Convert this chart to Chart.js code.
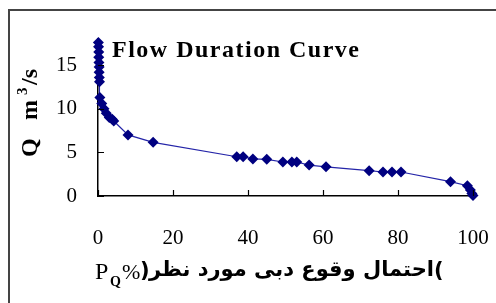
<!DOCTYPE html>
<html>
<head>
<meta charset="utf-8">
<script src="https://cdn.jsdelivr.net/npm/chart.js@4"></script>
<style>
  body { margin: 0; background: #fff; }
  canvas { display: block; }
</style>
</head>
<body>
<canvas id="fdc" width="496" height="303"></canvas>
<script>
// exceedance probability (%) and discharge (m3/s)
const pq = [0.1, 0.15, 0.2, 0.2, 0.25, 0.3, 0.3, 0.35, 0.4, 0.5, 1.0, 1.6, 2.2, 3.0, 3.8, 4.2,
  8, 14.7, 37, 38.7, 41.3, 45, 49.3, 51.7, 53, 56.3, 60.8, 72.3, 76, 78.4, 80.8, 94, 98.5, 99.3, 99.7, 100];
const q = [17.6, 17.1, 16.5, 15.9, 15.3, 14.8, 14.2, 13.6, 13.1, 11.3, 10.6, 10.0, 9.5, 9.0, 8.8, 8.6,
  7.0, 6.15, 4.5, 4.5, 4.25, 4.2, 3.9, 3.9, 3.9, 3.55, 3.35, 2.9, 2.75, 2.75, 2.75, 1.64, 1.18, 0.7, 0.3, 0.05];
const xTicks = [0, 20, 40, 60, 80, 100];
const yTicks = [0, 5, 10, 15];

const serif = "'Liberation Serif', 'Times New Roman', serif";

const extras = {
  id: 'extras',
  afterDraw(chart) {
    const ctx = chart.ctx;
    const xs = chart.scales.x, ys = chart.scales.y;
    const a = chart.chartArea;
    ctx.save();
    // outer frame
    ctx.strokeStyle = '#444';
    ctx.lineWidth = 2;
    ctx.beginPath();
    ctx.moveTo(9, 303);
    ctx.lineTo(9, 10);
    ctx.lineTo(496, 10);
    ctx.stroke();

    // inward tick marks
    ctx.strokeStyle = '#000';
    ctx.lineWidth = 1.2;
    ctx.beginPath();
    xTicks.forEach(v => {
      const px = Math.round(xs.getPixelForValue(v)) + 0.5;
      ctx.moveTo(px, a.bottom);
      ctx.lineTo(px, a.bottom - 6);
    });
    yTicks.forEach(v => {
      const py = Math.round(ys.getPixelForValue(v)) + 0.5;
      ctx.moveTo(a.left, py);
      ctx.lineTo(a.left + 6, py);
    });
    ctx.stroke();

    // title inside the plot
    ctx.fillStyle = '#000';
    ctx.font = 'bold 24px ' + serif;
    ctx.letterSpacing = '1.5px';
    ctx.textBaseline = 'middle';
    ctx.textAlign = 'left';
    ctx.fillText('Flow Duration Curve', 112, 51);
    ctx.letterSpacing = '0px';

    // y title: Q m^3/s, rotated
    ctx.save();
    ctx.translate(31, 157);
    ctx.rotate(-Math.PI / 2);
    ctx.textBaseline = 'middle';
    ctx.font = 'bold 24px ' + serif;
    ctx.fillText('Q', 0, 0);
    ctx.fillText('m', 37, 0);
    ctx.font = 'bold 15px ' + serif;
    ctx.fillText('3', 62, -8);
    ctx.font = 'bold 24px ' + serif;
    ctx.fillText('/s', 72, 0);
    ctx.restore();

    // x title: P_Q%(...)
    ctx.textBaseline = 'alphabetic';
    ctx.font = '24px ' + serif;
    ctx.fillText('P', 95, 279);
    ctx.font = 'bold 14px ' + serif;
    ctx.fillText('Q', 110, 286);
    ctx.font = '22px ' + serif;
    ctx.fillText('%', 122, 279);
    ctx.font = 'bold 21px "DejaVu Sans", sans-serif';
    ctx.fillText(')', 140, 277);
    ctx.fillText('(', 434, 277);
    ctx.direction = 'rtl';
    ctx.textAlign = 'right';
    ctx.fillText('احتمال وقوع دبی مورد نظر', 434, 276);
    ctx.restore();
  }
};

new Chart(document.getElementById('fdc').getContext('2d'), {
  type: 'scatter',
  data: {
    datasets: [{
      data: pq.map((v, i) => ({ x: v, y: q[i] })),
      showLine: true,
      borderColor: '#2424a8',
      borderWidth: 1.2,
      backgroundColor: '#000080',
      pointBackgroundColor: '#000080',
      pointBorderColor: '#000080',
      pointStyle: 'rectRot',
      pointRadius: 5.5,
      pointBorderWidth: 0,
      clip: false
    }]
  },
  options: {
    responsive: false,
    animation: false,
    layout: { padding: { top: 39, right: 23, left: 0, bottom: 0 } },
    plugins: { legend: { display: false }, tooltip: { enabled: false } },
    scales: {
      x: {
        type: 'linear',
        min: 0, max: 100,
        afterBuildTicks: s => { s.ticks = xTicks.map(v => ({ value: v })); },
        afterFit: s => { s.height = 107; s.paddingLeft = 0; s.paddingRight = 0; },
        grid: { display: false, drawTicks: false },
        border: { color: '#000', width: 1.5 },
        ticks: { color: '#000', padding: 30, font: { family: serif, size: 21 } }
      },
      y: {
        min: 0, max: 18,
        afterBuildTicks: s => { s.ticks = yTicks.map(v => ({ value: v })); },
        afterFit: s => { s.width = 98; s.paddingTop = 0; s.paddingBottom = 0; },
        grid: { display: false, drawTicks: false },
        border: { color: '#000', width: 1.5 },
        ticks: { color: '#000', padding: 21, font: { family: serif, size: 21 } }
      }
    }
  },
  plugins: [extras]
});
</script>
</body>
</html>
